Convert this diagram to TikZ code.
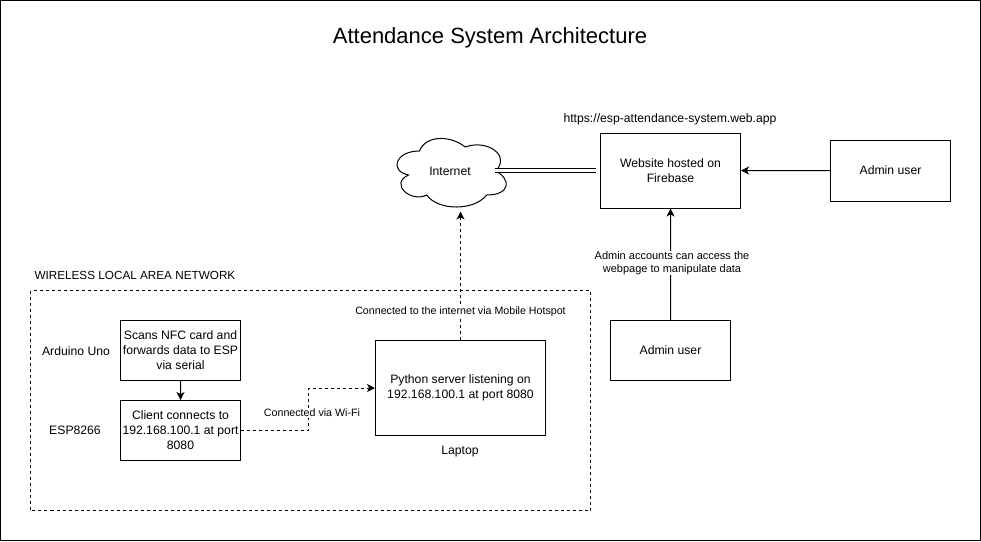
\documentclass[tikz,border=0pt]{standalone}
\usepackage{fontspec}
\setmainfont{Liberation Sans}
\usetikzlibrary{arrows.meta}

\begin{document}
\begin{tikzpicture}[scale=0.2636,line width=0.75pt,every text node part/.style={align=center},
  >={Stealth[length=6pt,width=6pt,inset=1.6pt]},
  box/.style={draw=black,fill=white,font=\fontsize{9.15}{11.25}\selectfont},
  plain/.style={font=\fontsize{9.15}{11.25}\selectfont},
  edgetext/.style={fill=white,inner sep=0.5pt,font=\fontsize{8}{10}\selectfont},
  dashline/.style={dash pattern=on 2.25pt off 2.25pt}]
\tikzstyle{every node}+=[inner sep=0pt]
\useasboundingbox (0,0) rectangle (98.1,-54.1);
\draw [black] (0.05,-0.05) rectangle (98.05,-54.05);
\node (title) at (49,-3.75) {\fontsize{16.5}{20}\selectfont Attendance System Architecture};
% network area
\draw [black,dashline] (3.05,-29.05) rectangle (59.05,-51.05);
\node [plain,anchor=west,font=\fontsize{8.8}{11}\selectfont] (wlan) at (3.4,-27.55) {WIRELESS LOCAL AREA NETWORK};
% cloud
\draw [black] (41.95,-15.1) .. controls (39.51,-15.1) and (38.9,-17.1) .. (40.85,-17.5)
  .. controls (38.9,-18.38) and (41.1,-20.3) .. (42.68,-19.5)
  .. controls (43.78,-21.1) and (47.44,-21.1) .. (48.66,-19.5)
  .. controls (51.1,-19.5) and (51.1,-17.9) .. (49.58,-17.1)
  .. controls (51.1,-15.5) and (48.66,-13.9) .. (46.53,-14.7)
  .. controls (45,-13.5) and (42.56,-13.5) .. (41.95,-15.1) -- cycle;
\node [plain,minimum width=82.5pt,minimum height=60pt] (internet) at (45,-17.1) {Internet};
% boxes
\node [box,minimum width=105pt,minimum height=56.25pt] (website) at (67.05,-17.05) {Website hosted on\\Firebase};
\node [box,minimum width=90pt,minimum height=45.75pt] (admintop) at (89.05,-17.05) {Admin user};
\node [box,minimum width=90pt,minimum height=45pt] (adminlow) at (67.05,-35.05) {Admin user};
\node [box,minimum width=127.5pt,minimum height=71.25pt] (laptop) at (46.05,-38.8) {Python server listening on\\192.168.100.1 at port 8080};
\node [box,minimum width=90pt,minimum height=45pt] (arduino) at (18.05,-35.05) {Scans NFC card and\\forwards data to ESP\\via serial};
\node [box,minimum width=90pt,minimum height=45pt] (esp) at (18.05,-43.05) {Client connects to\\192.168.100.1 at port\\8080};
\node [plain] (url) at (67,-11.9) {https://esp-attendance-system.web.app};
\node [plain] (unolabel) at (7.6,-35.1) {Arduino Uno};
\node [plain] (esplabel) at (7.5,-43) {ESP8266};
\node [plain] (laptoplabel) at (46,-45.2) {Laptop};
% connectors
\draw [black,->] (admintop) -- (website);
\draw [black,->] (arduino) -- (esp);
\draw [black,->] (adminlow) -- (website);
\draw [black,double,double distance=1.7pt,shorten <=33.75pt,shorten >=3pt] (internet.center |- website.west) -- (website.west);
\coordinate (wifibend) at (30.8,-41);
\draw [black,dashline,->] (esp.east) -| (wifibend) |- (laptop.west);
\draw [black,dashline,->] (laptop.north) -- (laptop.north |- internet.south);
% connector labels
\node [edgetext] (wifilabel) at (31.2,-41.3) {Connected via Wi-Fi};
\node [edgetext] (hotspotlabel) at (46.05,-31.2) {Connected to the internet via Mobile Hotspot};
\node [edgetext,font=\fontsize{8.25}{10}\selectfont] (accesslabel) at (67.2,-26.3) {Admin accounts can access the\\webpage to manipulate data};
\end{tikzpicture}
\end{document}
